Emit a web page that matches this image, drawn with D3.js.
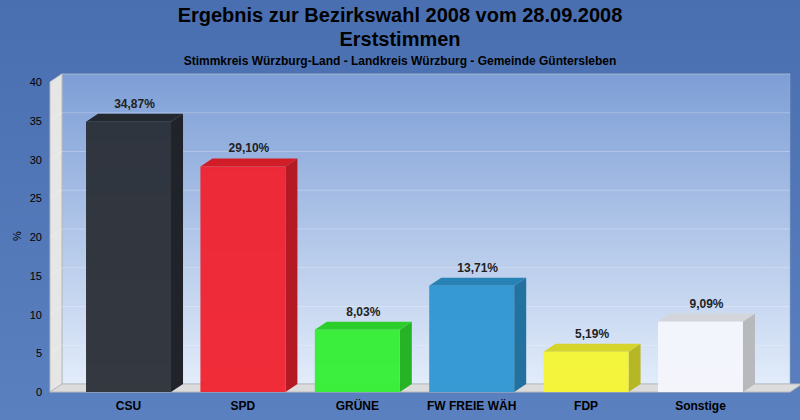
<!DOCTYPE html><html><head><meta charset="utf-8">
<script src="https://cdn.jsdelivr.net/npm/d3@7"></script>
<style>body{margin:0}svg{display:block}</style></head><body>
<svg id="c" width="800" height="420"></svg>
<script>
const categories=["CSU","SPD","GRÜNE","FW FREIE WÄH","FDP","Sonstige"];
const values=[34.87,29.10,8.03,13.71,5.19,9.09];
const labels=["34,87%","29,10%","8,03%","13,71%","5,19%","9,09%"];
const colors=["#2a2e36","#f0222e","#33ee33","#2e96d2","#f4f432","#f4f6fc"];
const ticks=[0,5,10,15,20,25,30,35,40];
const svg=d3.select("#c");
const defs=svg.append("defs");
const bg=defs.append("linearGradient").attr("id","bg").attr("x1",0).attr("y1",0).attr("x2",0).attr("y2",1);
bg.append("stop").attr("offset",0).attr("stop-color","#4a6fb0");bg.append("stop").attr("offset",1).attr("stop-color","#5a80c0");
const wall=defs.append("linearGradient").attr("id","wall").attr("x1",0).attr("y1",0).attr("x2",0).attr("y2",1);
wall.append("stop").attr("offset",0).attr("stop-color","#7d9ed6");wall.append("stop").attr("offset",1).attr("stop-color","#e2ecfa");
svg.append("rect").attr("width",800).attr("height",420).attr("fill","url(#bg)");
const dx=12,dy=8;
const x=d3.scaleBand().domain(categories).range([62,767]).paddingInner(0.257).paddingOuter(0.21);
const y=d3.scaleLinear().domain([0,40]).range([392,82]);
svg.append("rect").attr("x",62).attr("y",y(40)-dy).attr("width",790-62).attr("height",y(0)-y(40)).attr("fill","url(#wall)").attr("stroke","#9ab").attr("stroke-width",0.5);
svg.append("path").attr("d",`M50,${y(40)}L62,${y(40)-dy}L62,${y(0)-dy}L50,${y(0)}Z`).attr("fill","#e6e6e6").attr("stroke","#bbb");
svg.append("path").attr("d",`M50,${y(0)}L62,${y(0)-dy}L${790+dx},${y(0)-dy}L790,${y(0)}Z`).attr("fill","#dcdcdc").attr("stroke","#bbb");
svg.selectAll(".g").data(ticks.slice(1)).join("path").attr("d",t=>`M50,${y(t)}L62,${y(t)-dy}L790,${y(t)-dy}`).attr("fill","none").attr("stroke","#ffffff").attr("stroke-opacity",0.25);
svg.selectAll(".tk").data(ticks).join("text").attr("x",42).attr("y",t=>y(t)+4).attr("text-anchor","end").attr("font-family","Liberation Sans, Arial").attr("font-size",11).attr("fill","#000").text(t=>t);
svg.append("text").attr("transform","translate(21,236) rotate(-90)").attr("text-anchor","middle").attr("font-family","Liberation Sans, Arial").attr("font-size",11).text("%");
const bw=x.bandwidth();
categories.forEach((c,i)=>{
  const x0=x(c),x1=x0+bw,yt=y(values[i]),yb=y(0);
  const col=d3.color(colors[i]);
  const g=svg.append("g");
  g.append("path").attr("d",`M${x1},${yt}L${x1+dx},${yt-dy}L${x1+dx},${yb-dy}L${x1},${yb}Z`).attr("fill",col.darker(0.8));
  g.append("path").attr("d",`M${x0},${yt}L${x0+dx},${yt-dy}L${x1+dx},${yt-dy}L${x1},${yt}Z`).attr("fill",col.darker(0.4));
  g.append("rect").attr("x",x0).attr("y",yt).attr("width",bw).attr("height",yb-yt).attr("fill",col).attr("fill-opacity",0.95);
  svg.append("text").attr("x",x0+bw/2+dx/2).attr("y",yt-dy-6).attr("text-anchor","middle").attr("font-family","Liberation Sans, Arial").attr("font-weight","bold").attr("font-size",12).attr("fill","#222").text(labels[i]);
  svg.append("text").attr("x",x0+bw/2).attr("y",yb+18).attr("text-anchor","middle").attr("font-family","Liberation Sans, Arial").attr("font-weight","bold").attr("font-size",12).attr("fill","#000").text(c);
});
svg.append("text").attr("x",400).attr("y",22).attr("text-anchor","middle").attr("font-family","Liberation Sans, Arial").attr("font-weight","bold").attr("font-size",20).text("Ergebnis zur Bezirkswahl 2008 vom 28.09.2008");
svg.append("text").attr("x",400).attr("y",46).attr("text-anchor","middle").attr("font-family","Liberation Sans, Arial").attr("font-weight","bold").attr("font-size",20).text("Erststimmen");
svg.append("text").attr("x",400).attr("y",65).attr("text-anchor","middle").attr("font-family","Liberation Sans, Arial").attr("font-weight","bold").attr("font-size",12).text("Stimmkreis Würzburg-Land - Landkreis Würzburg - Gemeinde Güntersleben");
</script></body></html>
